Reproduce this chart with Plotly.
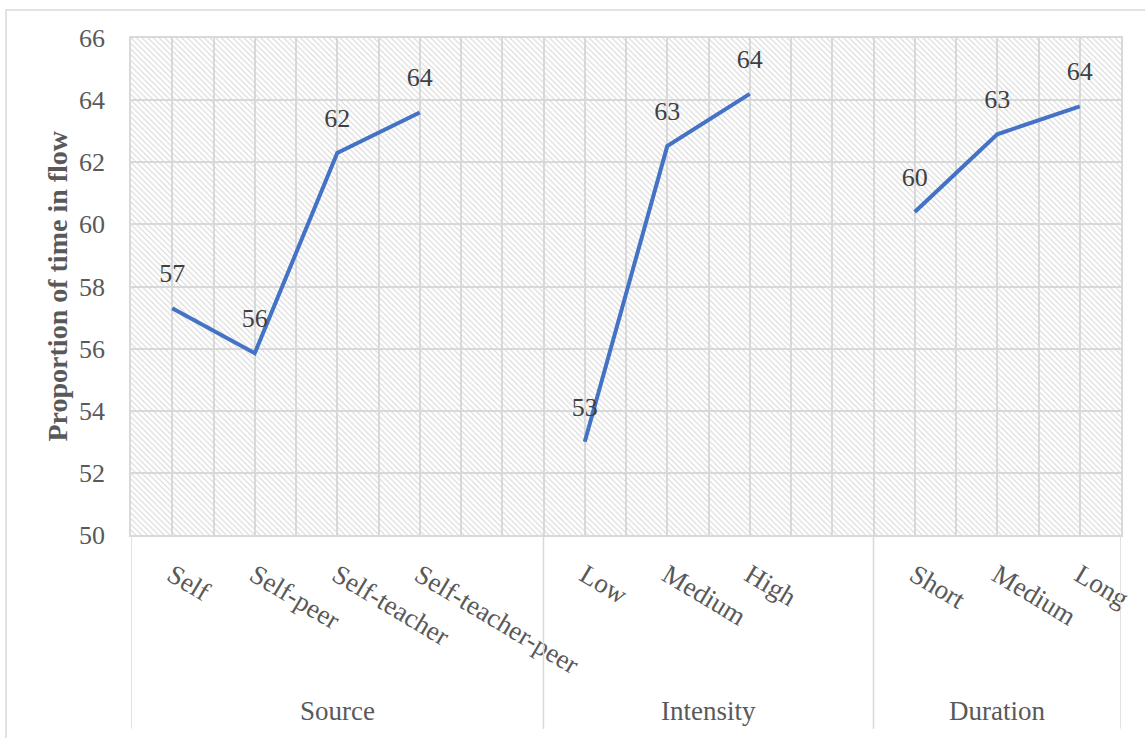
import math
import plotly.graph_objects as go

# ---- data -------------------------------------------------------------
group_names = ["Source", "Intensity", "Duration"]
source_labels = ["Self", "Self-peer", "Self-teacher", "Self-teacher-peer", ""]
source_values = [57.3, 55.85, 62.3, 63.6, None]
intensity_labels = ["Low", "Medium", "High", ""]
intensity_values = [53.0, 62.52, 64.2, None]
duration_labels = ["Short", "Medium", "Long"]
duration_values = [60.4, 62.9, 63.8]
y_ticks = [50, 52, 54, 56, 58, 60, 62, 64, 66]
y_title = "Proportion of time in flow"

groups = [source_labels, intensity_labels, duration_labels]

labels = source_labels + intensity_labels + duration_labels
values = source_values + intensity_values + duration_values
xpos = list(range(len(labels)))


def half_up(v):
    return "" if v is None else str(int(math.floor(v + 0.5)))


texts = [half_up(v) for v in values]

FONT = "Liberation Serif"
GRID = "#d9d9d9"

fig = go.Figure()

# hatched plot-area background (one patterned bar per category)
fig.add_trace(go.Bar(
    x=xpos, y=[y_ticks[-1] - y_ticks[0]] * len(xpos), base=y_ticks[0], width=1,
    marker=dict(color="#d6d6d6", line=dict(width=0),
                pattern=dict(shape="\\", size=4, solidity=0.28, fillmode="replace")),
    hoverinfo="skip", showlegend=False,
))

fig.add_trace(go.Scatter(
    x=xpos, y=values, mode="lines+markers+text",
    line=dict(color="#4472C4", width=4),
    marker=dict(size=30, color="rgba(0,0,0,0)"),
    text=texts, textposition="top center",
    textfont=dict(family=FONT, size=26, color="#404040"),
    connectgaps=False, showlegend=False, cliponaxis=False,
))

# group labels and dividers
start = 0
boundaries = [-0.5]
for name, g in zip(group_names, groups):
    n = len(g)
    center = start + (n - 1) / 2
    fig.add_annotation(x=center, xref="x", y=-0.355, yref="paper", text=name,
                       showarrow=False, yanchor="middle", xanchor="center",
                       font=dict(family=FONT, size=27, color="#595959"))
    start += n
    boundaries.append(start - 0.5)
for b in boundaries:
    fig.add_shape(type="line", xref="x", yref="paper", x0=b, x1=b, y0=0, y1=-0.39,
                  line=dict(color=GRID, width=1.5))

# outer chart border (top and left visible)
fig.add_shape(type="rect", xref="paper", yref="paper",
              x0=(6 - 131) / 990, x1=1.1, y0=(738 - 10 - 203) / 497, y1=-0.5,
              line=dict(color=GRID, width=1.5), layer="below")

fig.add_annotation(x=(57 - 131) / 990, xref="paper", y=0.5, yref="paper",
                   xanchor="center", yanchor="middle",
                   text=f"<b>{y_title}</b>", textangle=-90, showarrow=False,
                   font=dict(family=FONT, size=28, color="#595959"))

fig.update_layout(
    width=1145, height=738,
    margin=dict(l=131, r=24, t=38, b=203),
    paper_bgcolor="white", plot_bgcolor="white",
    bargap=0,
)
fig.update_xaxes(
    range=[-0.5, len(labels) - 0.5],
    tickmode="array", tickvals=xpos, ticktext=labels, tickangle=31,
    tickfont=dict(family=FONT, size=27, color="#595959"),
    showgrid=True, gridcolor=GRID, gridwidth=1.5,
    minor=dict(dtick=1, tick0=-0.5, showgrid=True, gridcolor=GRID, gridwidth=1.5),
    showline=True, linecolor=GRID, linewidth=1.5, mirror=True,
    ticks="", ticklabelstandoff=12, zeroline=False,
)
fig.update_yaxes(
    range=[y_ticks[0], y_ticks[-1]], tickvals=y_ticks,
    tickfont=dict(family=FONT, size=26, color="#595959"),
    showgrid=True, gridcolor=GRID, gridwidth=1.5,
    showline=True, linecolor=GRID, linewidth=1.5, mirror=True,
    ticks="", ticklabelstandoff=19, zeroline=False,
)

fig.write_html("out.html")
